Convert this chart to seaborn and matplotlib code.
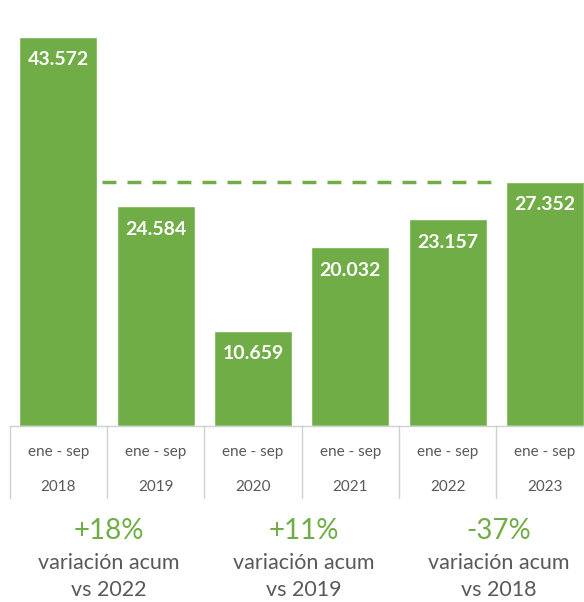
import matplotlib
matplotlib.use("Agg")
import pandas as pd
import seaborn as sns
import matplotlib.pyplot as plt

# datos
years = ["2018", "2019", "2020", "2021", "2022", "2023"]
values = [43572, 24584, 10659, 20032, 23157, 27352]
value_labels = ["43.572", "24.584", "10.659", "20.032", "23.157", "27.352"]
period_label = "ene - sep"
var_pcts = ["+18%", "+11%", "-37%"]
var_refs = ["vs 2022", "vs 2019", "vs 2018"]
var_pos = [0.52, 2.52, 4.52]

GREEN = "#70AD47"
GRAY_TXT = "#595959"
GRID = "#D0D0D0"

sns.set_theme(style="white")
plt.rcParams["font.family"] = ["Lato", "DejaVu Sans"]

df = pd.DataFrame({"year": years, "value": values})

fig = plt.figure(figsize=(5.84, 6.02), dpi=100)
ax = fig.add_axes([9.5 / 584, 176 / 602, (584 - 9.5) / 584, 426 / 602])

sns.barplot(data=df, x="year", y="value", color=GREEN, saturation=1, width=0.8, ax=ax)

ax.set_xlim(-0.5, 5.4)
ax.set_ylim(0, 47700)

# línea punteada al nivel de 2023
ax.plot([0.45, 4.55], [values[-1], values[-1]], color=GREEN, lw=2.5,
        linestyle=(0, (4, 3.2)))

# etiquetas de valor dentro de las barras
for i, (v, lab) in enumerate(zip(values, value_labels)):
    ax.annotate(lab, (i, v), xytext=(0, -16.5), textcoords="offset points",
                ha="center", va="center", color="white", fontsize=14,
                fontweight="bold")

# tabla inferior
xt = ax.get_xaxis_transform()
for i in range(len(years)):
    ax.text(i, -0.061, period_label, transform=xt, ha="center", va="center",
            fontsize=11, color=GRAY_TXT)
    ax.text(i, -0.143, years[i], transform=xt, ha="center", va="center",
            fontsize=11, color=GRAY_TXT)
    ax.plot([i - 0.5, i - 0.5], [0, -0.169], transform=xt, color=GRID,
            lw=1, clip_on=False)

for x, pct, ref in zip(var_pos, var_pcts, var_refs):
    ax.text(x, -0.247, pct, transform=xt, ha="center", va="center",
            fontsize=20, color=GREEN)
    ax.text(x, -0.322, "variación acum", transform=xt, ha="center",
            va="center", fontsize=15.5, color=GRAY_TXT)
    ax.text(x, -0.384, ref, transform=xt, ha="center", va="center",
            fontsize=15.5, color=GRAY_TXT)

ax.set_xticks([])
ax.set_yticks([])
ax.set_xlabel("")
ax.set_ylabel("")
for s in ["top", "left", "right"]:
    ax.spines[s].set_visible(False)
ax.spines["bottom"].set_color(GRID)
ax.spines["bottom"].set_linewidth(1)

fig.savefig("out.png", dpi=100)
